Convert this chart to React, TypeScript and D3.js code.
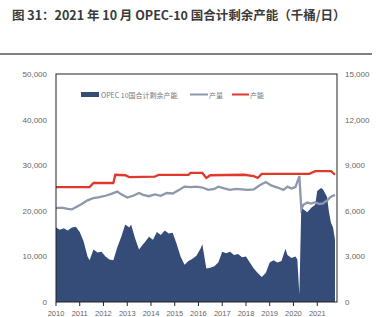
import React from "react";
import * as d3 from "d3";

// OPEC-10 spare capacity (right axis, kb/d)
const spareDates = [
  "2010-01", "2010-03", "2010-05", "2010-07", "2010-09", "2010-11", "2011-01", "2011-03", "2011-05", "2011-06",
  "2011-08", "2011-10", "2011-12", "2012-02", "2012-04", "2012-06", "2012-08", "2012-10", "2012-12", "2013-02",
  "2013-03", "2013-05", "2013-07", "2013-09", "2013-10", "2013-12", "2014-02", "2014-04", "2014-06", "2014-08",
  "2014-10", "2014-12", "2015-02", "2015-04", "2015-06", "2015-08", "2015-10", "2015-12", "2016-02", "2016-03",
  "2016-05", "2016-07", "2016-09", "2016-11", "2017-01", "2017-03", "2017-05", "2017-07", "2017-09", "2017-11",
  "2018-01", "2018-03", "2018-05", "2018-07", "2018-09", "2018-11", "2019-01", "2019-03", "2019-05", "2019-07",
  "2019-09", "2019-10", "2019-12", "2020-02", "2020-03", "2020-04", "2020-05", "2020-06", "2020-08", "2020-10",
  "2020-12", "2021-01", "2021-03", "2021-04", "2021-06", "2021-07", "2021-08", "2021-09", "2021-10",
];
const spareValues = [
  4900, 4750, 4850, 4700, 4900, 4950, 4600, 4000, 3000, 2750,
  3450, 3250, 3300, 3000, 2800, 2750, 3600, 4300, 5100, 4900,
  5100, 4200, 3450, 3800, 3950, 4300, 4100, 4600, 4400, 4700,
  4500, 4550, 3800, 3000, 2450, 2700, 2850, 3050, 3500, 3800,
  2200, 2250, 2350, 2600, 3300, 3200, 3300, 3100, 3150, 2950,
  3000, 2600, 2200, 1900, 1650, 1900, 2600, 2750, 2600, 2700,
  3500, 3100, 2900, 3000, 2800, 500, 6300, 6100, 5900, 6200,
  6400, 7300, 7500, 7400, 6900, 5900, 5200, 4900, 4100,
];

// production (left axis, kb/d)
const prodDates = [
  "2010-01", "2010-04", "2010-07", "2010-09", "2010-11", "2011-02", "2011-05", "2011-08", "2011-11", "2012-02",
  "2012-05", "2012-08", "2012-10", "2013-01", "2013-04", "2013-07", "2013-09", "2013-12", "2014-03", "2014-06",
  "2014-09", "2014-12", "2015-03", "2015-06", "2015-09", "2015-12", "2016-03", "2016-06", "2016-09", "2016-11",
  "2017-02", "2017-05", "2017-08", "2017-11", "2018-02", "2018-05", "2018-08", "2018-11", "2019-02", "2019-05",
  "2019-08", "2019-10", "2019-12", "2020-02", "2020-04", "2020-05", "2020-06", "2020-08", "2020-10", "2020-12",
  "2021-02", "2021-04", "2021-06", "2021-08", "2021-10",
];
const prodValues = [
  20600, 20700, 20400, 20300, 20800, 21500, 22300, 22800, 23000, 23300,
  23700, 24200, 23600, 22900, 23300, 23900, 23500, 23200, 23600, 23300,
  23900, 23800, 24500, 25300, 25200, 25300, 25100, 24600, 24800, 25300,
  24900, 24600, 24800, 24700, 24600, 24700, 25600, 26300, 25500, 25100,
  24600, 25300, 24900, 25200, 27600, 20400, 21300, 21800, 21600, 21900,
  21500, 21600, 22300, 23100, 23500,
];

// capacity (left axis, kb/d)
const capDates = [
  "2010-01", "2011-06", "2011-08", "2012-06", "2012-07", "2012-12", "2013-02", "2014-03", "2014-05", "2015-08",
  "2015-09", "2016-03", "2016-05", "2016-07", "2017-12", "2018-05", "2018-07", "2018-09", "2020-09", "2020-12",
  "2021-08", "2021-10",
];
const capValues = [
  25200, 25200, 26100, 26100, 27900, 27800, 27400, 27500, 27900, 27900,
  28300, 28300, 27200, 27800, 27900, 27600, 27200, 28100, 28100, 28700,
  28700, 27900,
];

const leftTicks = [0, 10000, 20000, 30000, 40000, 50000];
const rightTicks = [0, 3000, 6000, 9000, 12000, 15000];
const years = d3.range(2010, 2022);

const parse = d3.timeParse("%Y-%m");

const App = () => {
  const W = 378;
  const H = 317;
  const m = { left: 56, right: 337, top: 74, bottom: 302 };

  const x = d3
    .scaleTime()
    .domain([new Date(2010, 0, 1), new Date(2021, 10, 1)])
    .range([m.left, m.right]);
  const yL = d3.scaleLinear().domain([0, 50000]).range([m.bottom, m.top]);
  const yR = d3.scaleLinear().domain([0, 15000]).range([m.bottom, m.top]);

  const spare = spareDates.map((d, i) => ({ date: parse(d), v: spareValues[i] }));
  const prod = prodDates.map((d, i) => ({ date: parse(d), v: prodValues[i] }));
  const cap = capDates.map((d, i) => ({ date: parse(d), v: capValues[i] }));

  const area = d3
    .area<any>()
    .x((d) => x(d.date))
    .y0(m.bottom)
    .y1((d) => yR(d.v));
  const lineL = d3
    .line<any>()
    .x((d) => x(d.date))
    .y((d) => yL(d.v));

  const fmt = d3.format(",");
  const tickFont = "'Liberation Sans', Arial, sans-serif";

  return (
    <svg width={W} height={H} style={{ position: "absolute", left: 0, top: 0, background: "#fff" }}>
      <text
        x={12}
        y={20}
        fontFamily="'Noto Sans CJK SC', sans-serif"
        fontWeight="bold"
        fontSize={12.5}
        fill="#3a3a3a"
      >
        图 31：2021 年 10 月 OPEC-10 国合计剩余产能（千桶/日）
      </text>
      <line x1={0} x2={372} y1={54} y2={54} stroke="#555" strokeWidth={1.5} />

      <path d={area(spare) || ""} fill="#354b78" />
      <path d={lineL(prod) || ""} fill="none" stroke="#8e97ab" strokeWidth={2.3} />
      <path d={lineL(cap) || ""} fill="none" stroke="#e0392c" strokeWidth={2.3} />

      <rect
        x={m.left}
        y={m.top}
        width={m.right - m.left}
        height={m.bottom - m.top}
        fill="none"
        stroke="#222"
        strokeWidth={1}
      />

      {years.map((yr) => {
        const xx = x(new Date(yr, 0, 1));
        return (
          <g key={yr}>
            <line x1={xx} x2={xx} y1={m.bottom} y2={m.bottom + 4} stroke="#222" />
            <text x={xx} y={316} textAnchor="middle" fontSize={7.5} fill="#666" fontFamily={tickFont}>
              {yr}
            </text>
          </g>
        );
      })}

      {leftTicks.map((t) => (
        <text key={t} x={47} y={yL(t) + 3} textAnchor="end" fontSize={8} fill="#666" fontFamily={tickFont}>
          {fmt(t)}
        </text>
      ))}
      {rightTicks.map((t) => (
        <text key={t} x={345} y={yR(t) + 3} textAnchor="start" fontSize={8} fill="#666" fontFamily={tickFont}>
          {fmt(t)}
        </text>
      ))}

      <g fontSize={7} fill="#777" fontFamily="'Noto Sans CJK SC', sans-serif">
        <rect x={81} y={92} width={18} height={5} fill="#354b78" />
        <text x={101} y={97.5}>OPEC 10国合计剩余产能</text>
        <line x1={190} x2={208} y1={94.5} y2={94.5} stroke="#8e97ab" strokeWidth={2} />
        <text x={209} y={97.5}>产量</text>
        <line x1={232} x2={249} y1={94.5} y2={94.5} stroke="#e0392c" strokeWidth={2} />
        <text x={250} y={97.5}>产能</text>
      </g>
    </svg>
  );
};

export default App;
